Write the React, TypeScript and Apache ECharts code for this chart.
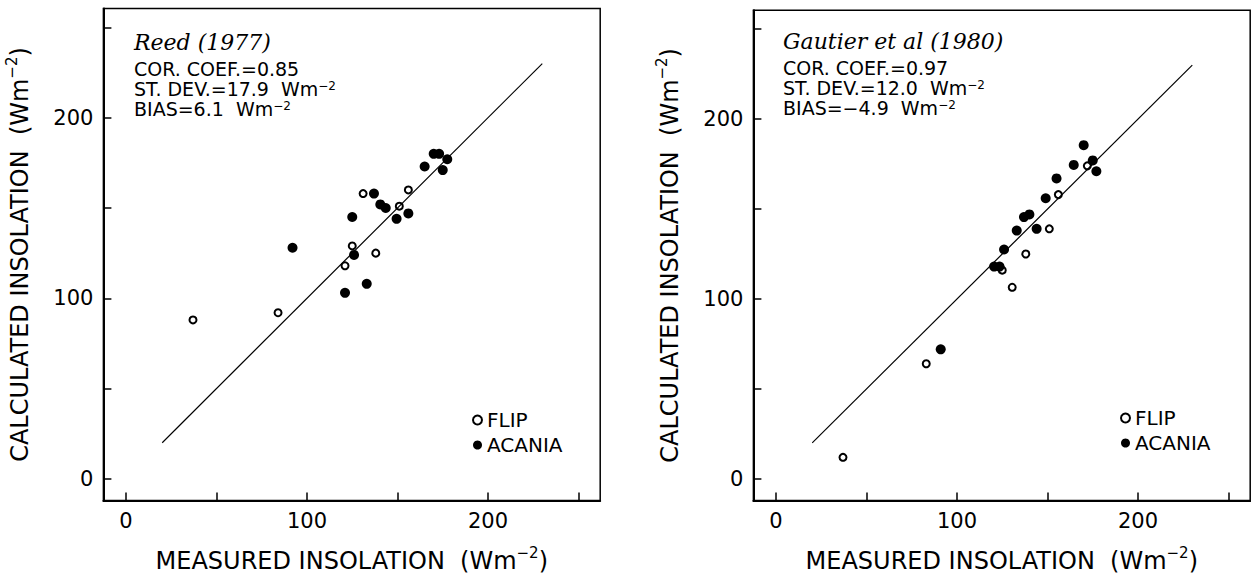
import React, { useEffect, useRef } from "react";
import * as echarts from "echarts";

// ---- data ----
const tickValues = [0, 50, 100, 150, 200, 250];
const tickLabelValues = [0, 100, 200];
const oneToOneLine = [[20, 20], [230, 230]];

const reedFlip = [[37, 88], [84, 92], [121, 118], [125, 129], [131, 158], [138, 125], [151, 151], [156, 160]];
const reedAcania = [[92, 128], [121, 103], [126, 124], [125, 145], [133, 108], [137, 158], [140.5, 152], [143.5, 150], [149.5, 144], [156, 147], [165, 173], [170, 180], [173, 180], [175, 171], [177.5, 177]];

const gautierFlip = [[37, 12], [83, 64], [125, 116], [130.5, 106.5], [138, 125], [151, 139], [156, 158], [172, 174]];
const gautierAcania = [[91, 72], [120.5, 118], [123.5, 118], [126, 127.5], [133, 138], [137, 145.5], [140, 147], [144, 139], [149, 156], [155, 167], [164.5, 174.5], [170, 185.5], [175, 177], [177, 171]];

const leftTitle = "Reed (1977)";
const leftStats = ["COR. COEF.=0.85", "ST. DEV.=17.9  Wm{sup|−2}", "BIAS=6.1  Wm{sup|−2}"];
const rightTitle = "Gautier et al (1980)";
const rightStats = ["COR. COEF.=0.97", "ST. DEV.=12.0  Wm{sup|−2}", "BIAS=−4.9  Wm{sup|−2}"];

const xTitle = "MEASURED INSOLATION  (Wm{sup|−2})";
const yTitle = "CALCULATED INSOLATION  (Wm{sup|−2})";
const seriesNames = ["FLIP", "ACANIA"];

const FONT = "DejaVu Sans";

export default function App() {
  const ref = useRef<HTMLDivElement>(null);
  useEffect(() => {
    if (!ref.current) return;
    const chart = echarts.init(ref.current, null, { renderer: "svg" });

    const titleRich = {
      sup: { fontSize: 15, fontFamily: FONT, color: "#000", padding: [0, 0, 16, 0] },
    };
    const mkX = (gridIndex: number) => ({
      type: "value",
      gridIndex,
      min: -12.5,
      max: 262,
      splitLine: { show: false },
      axisLine: { show: true, onZero: false, lineStyle: { color: "#000", width: 2 } },
      axisTick: { show: true, inside: true, length: 8, customValues: tickValues, lineStyle: { color: "#000", width: 1.5 } },
      axisLabel: { customValues: tickLabelValues, color: "#000", fontSize: 21, fontFamily: FONT, margin: 10 },
      name: xTitle,
      nameLocation: "middle",
      nameGap: 45,
      nameTextStyle: { fontSize: 24, fontFamily: FONT, color: "#000", rich: titleRich },
    });
    const mkY = (gridIndex: number) => ({
      type: "value",
      gridIndex,
      min: -12,
      max: 260.5,
      splitLine: { show: false },
      axisLine: { show: true, onZero: false, lineStyle: { color: "#000", width: 2 } },
      axisTick: { show: true, inside: true, length: 8, customValues: tickValues, lineStyle: { color: "#000", width: 1.5 } },
      axisLabel: { customValues: tickLabelValues, color: "#000", fontSize: 21, fontFamily: FONT, margin: 10 },
      name: yTitle,
      nameLocation: "middle",
      nameGap: 68,
      nameTextStyle: { fontSize: 24, fontFamily: FONT, color: "#000", rich: titleRich },
    });

    const statRich = {
      sup: { fontSize: 12, fontFamily: FONT, fill: "#000", lineHeight: 10, verticalAlign: "top" },
    };
    const mkStats = (x: number, title: string, stats: string[], ys: number[]) => [
      {
        type: "text",
        x,
        y: ys[0],
        style: { text: title, fill: "#000", font: "italic 22px 'DejaVu Serif'", verticalAlign: "middle" },
      },
      ...stats.map((s, i) => ({
        type: "text",
        x,
        y: ys[i + 1],
        style: {
          text: s,
          fill: "#000",
          font: `19px '${FONT}'`,
          lineHeight: 19,
          verticalAlign: "middle",
          rich: statRich,
        },
      })),
    ];

    const flipStyle = { color: "#fff", borderColor: "#000", borderWidth: 2, opacity: 1 };
    const acaniaStyle = { color: "#000", opacity: 1 };
    const mkSeries = (idx: number, flip: number[][], acania: number[][]) => [
      {
        type: "line",
        name: "1:1",
        xAxisIndex: idx,
        yAxisIndex: idx,
        data: oneToOneLine,
        symbol: "none",
        silent: true,
        lineStyle: { color: "#000", width: 1.2 },
      },
      {
        type: "scatter",
        name: seriesNames[0],
        xAxisIndex: idx,
        yAxisIndex: idx,
        data: flip,
        symbol: "circle",
        symbolSize: 7,
        itemStyle: flipStyle,
      },
      {
        type: "scatter",
        name: seriesNames[1],
        xAxisIndex: idx,
        yAxisIndex: idx,
        data: acania,
        symbol: "circle",
        symbolSize: 10,
        itemStyle: acaniaStyle,
      },
    ];

    const mkLegend = (left: number, top: number) => ({
      data: seriesNames,
      orient: "vertical",
      left,
      top,
      itemWidth: 9,
      itemHeight: 9,
      itemGap: 5,
      selectedMode: false,
      textStyle: { fontSize: 20, fontFamily: FONT, color: "#000" },
    });

    chart.setOption({
      animation: false,
      backgroundColor: "#fff",
      grid: [
        { left: 103.4, top: 8.5, width: 496.8, height: 493.2, show: true, borderColor: "#000", borderWidth: 1.5 },
        { left: 753.4, top: 10.2, width: 496.8, height: 493.2, show: true, borderColor: "#000", borderWidth: 1.5 },
      ],
      xAxis: [mkX(0), mkX(1)],
      yAxis: [mkY(0), mkY(1)],
      legend: [mkLegend(467, 405), mkLegend(1115, 403)],
      series: [...mkSeries(0, reedFlip, reedAcania), ...mkSeries(1, gautierFlip, gautierAcania)],
      graphic: [
        ...mkStats(134, leftTitle, leftStats, [42, 69, 89, 109]),
        ...mkStats(783, rightTitle, rightStats, [41, 68, 88, 108]),
      ],
    });
    return () => chart.dispose();
  }, []);
  return (
    <div
      ref={ref}
      style={{ position: "fixed", left: 0, top: 0, width: 1251, height: 578, background: "#fff" }}
    />
  );
}
